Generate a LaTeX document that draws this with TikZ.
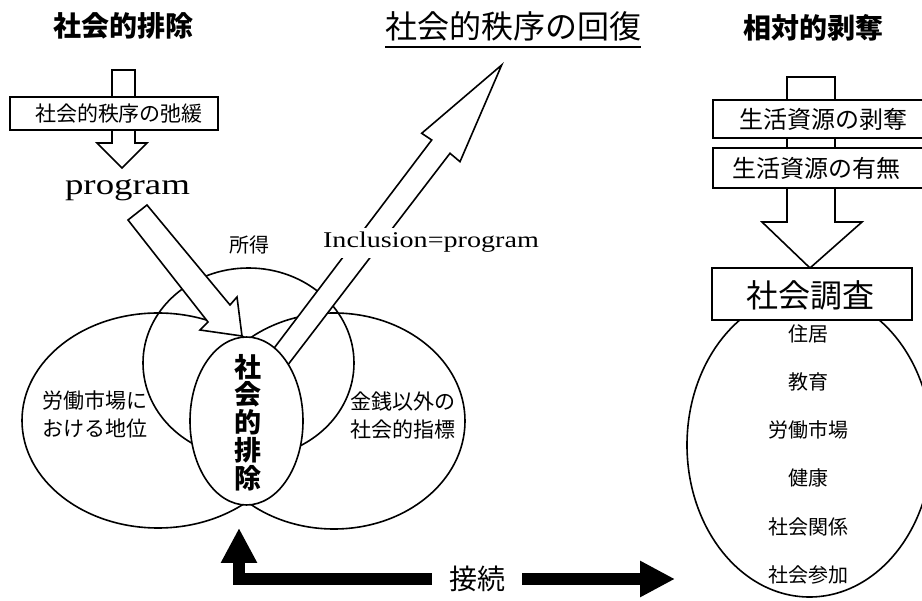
\documentclass[tikz,border=0pt]{standalone}
\usepackage{fontspec}
\usetikzlibrary{arrows.meta}
\newfontfamily\jp{Noto Sans CJK JP}
\newfontfamily\lat{Liberation Serif}[FakeStretch=1.25]
\tikzset{
  ln/.style={line width=1.6pt},
  blk/.style={ln, draw, fill=white, line join=miter},
  jtxt/.style={inner sep=0pt, font=\jp\fontsize{#1}{#1}\selectfont},
  jtxt/.default=20,
  boxn/.style={ln, draw, fill=white, inner sep=0pt},
  connarrow/.style={line width=12pt, -{Triangle[length=35pt,width=34pt]}},
}
\begin{document}
\begin{tikzpicture}[x=1pt,y=-1pt]
\useasboundingbox (0,0) rectangle (922,601);
\clip (0,0) rectangle (922,601);

% ---------- titles ----------
\node[jtxt=28, font=\jp\bfseries\fontsize{28}{28}\selectfont] (tleft) at (123,26) {社会的排除};
\node[jtxt=32] (tmid) at (513.5,26) {社会的秩序の回復};
\draw[line width=2.2pt] (385,47) -- (641,47);
\node[jtxt=28, font=\jp\bfseries\fontsize{28}{28}\selectfont] (tright) at (813,28) {相対的剥奪};

% ---------- left block arrow ----------
\draw[blk] (112,70) -- (135,70) -- (135,143) -- (147,143) -- (122,168) -- (97,143) -- (112,143) -- cycle;
\node[boxn, minimum width=208pt, minimum height=33pt] (slack) at (114,113.5) {};
\node[jtxt=21] (slacktxt) at (119,113.5) {社会的秩序の弛緩};
\node[inner sep=0pt, anchor=base, font=\lat\fontsize{29.5}{30}\selectfont] (prog) at (127.5,195) {program};

% ---------- Venn diagram ----------
\draw[ln] (158,420.5) ellipse [x radius=136pt, y radius=107.5pt];
\draw[ln] (334,421) ellipse [x radius=131pt, y radius=108pt];
\draw[ln] (248.5,363) ellipse [x radius=105.5pt, y radius=95pt];

% arrow from program into the centre
\draw[blk] (128,220) -- (147,205) -- (230,305) -- (237,297) -- (242,336) -- (200,330) -- (208,322) -- cycle;
% arrow from the centre up to the restoration of order
\draw[blk] (263.6,362) -- (431.7,140) -- (421.7,133.3) -- (501.7,65) -- (460,161.7) -- (450,153.3) -- (278.6,377) -- cycle;
\node[inner sep=2pt, fill=white, anchor=base, minimum height=30pt, font=\lat\fontsize{22.5}{23}\selectfont] (incl) at (431,248) {Inclusion=program};

% centre ellipse
\draw[ln, fill=white] (246.5,421) ellipse [x radius=56.5pt, y radius=84pt];
\node[jtxt, align=center, font=\jp\bfseries\fontsize{27}{27.75}\selectfont] (core) at (248,422.5) {社\\会\\的\\排\\除};

\node[jtxt=20] (income) at (249,245) {所得};
\node[jtxt, align=center, font=\jp\fontsize{21}{28}\selectfont] (labour) at (94.5,414) {労働市場に\\おける地位};
\node[jtxt, align=center, font=\jp\fontsize{21}{28}\selectfont] (nonmon) at (402.5,416) {金銭以外の\\社会的指標};

% ---------- right column ----------
\draw[ln] (809.5,445) ellipse [x radius=122.5pt, y radius=152pt];
\draw[blk] (787,77) -- (835,77) -- (835,222) -- (862,222) -- (810,268) -- (762,222) -- (787,222) -- cycle;
\node[boxn, minimum width=221pt, minimum height=38pt] (depr) at (823.5,119) {};
\node[jtxt=24] (deprtxt) at (823.5,119) {生活資源の剥奪};
\node[boxn, minimum width=221pt, minimum height=40pt] (have) at (823.5,168) {};
\node[jtxt=24] (havetxt) at (816,168) {生活資源の有無};
\node[boxn, minimum width=200pt, minimum height=52pt] (survey) at (812,294) {};
\node[jtxt=32] (surveytxt) at (810,295) {社会調査};

\node[jtxt=20] (i1) at (808,334) {住居};
\node[jtxt=20] (i2) at (808,382) {教育};
\node[jtxt=20] (i3) at (808,430) {労働市場};
\node[jtxt=20] (i4) at (808,478) {健康};
\node[jtxt=20] (i5) at (808,527) {社会関係};
\node[jtxt=20] (i6) at (808,575) {社会参加};

% ---------- connection ----------
\node[jtxt=28] (link) at (477,579) {接続};
\coordinate (ltip) at (239,528);
\coordinate (rtip) at (675,579);
\draw[connarrow, shorten <=17pt] (link.west) -| (ltip);
\draw[connarrow, shorten <=17pt] (link.east) -- (rtip);
\end{tikzpicture}
\end{document}
